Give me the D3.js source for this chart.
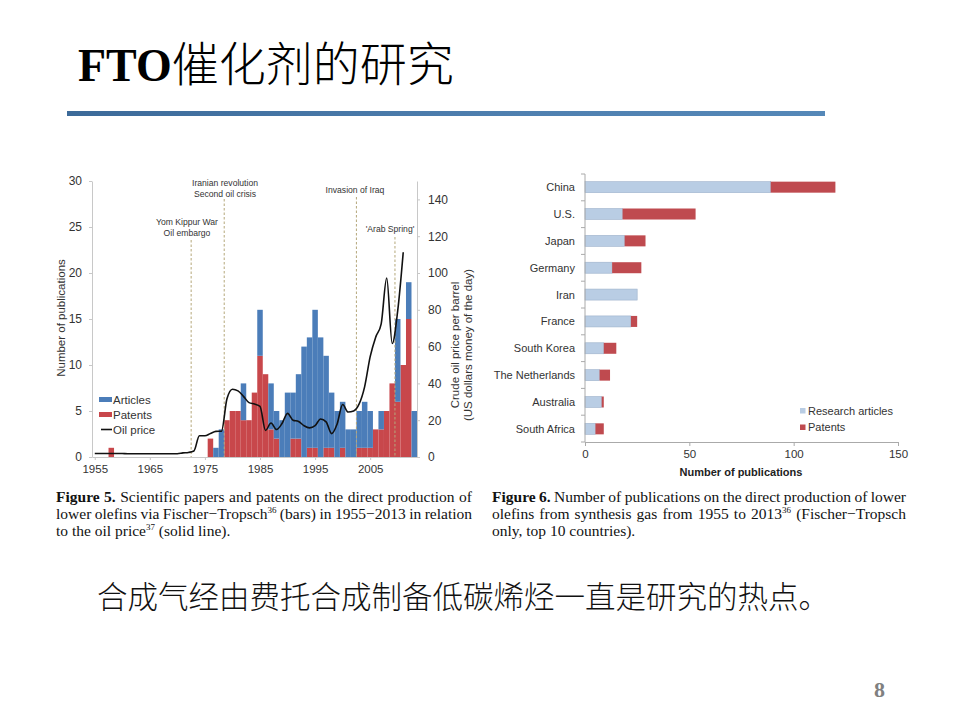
<!DOCTYPE html>
<html><head><meta charset="utf-8">
<script src="https://cdn.jsdelivr.net/npm/d3@7"></script>
<style>body{margin:0;background:#fff;} svg{display:block;}</style>
</head><body>
<svg id="c" width="960" height="720"></svg>
<script>
// ---------- DATA ----------
// Figure 5: publications per year (1955-2013)
const years = d3.range(1955, 2014); // 1955 ... 2013
const articles = [
  0,0,0,0,0, 0,0,0,0,0, 0,0,0,0,0, 0,0,0,0,0,   // 1955-1974
  0,0,1,3,0, 0,0,4,0,0, 5,0,5,3,4, 7,5,7,12,12, // 1975-1994
  15,13,10,6,5, 5,3,3,4,5, 4,0,2,0,0, 9,0,4,5   // 1995-2013
];
const patents = [
  0,0,0,1,0, 0,0,0,0,0, 0,0,0,0,0, 0,0,0,0,0,   // 1955-1974
  0,2,0,0,4, 5,5,4,4,7, 11,9,3,2,0, 0,2,2,0,1,  // 1975-1994
  1,0,1,1,0, 1,0,0,1,1, 1,3,3,5,8, 6,10,15,0    // 1995-2013
];
// Oil price, US$ per barrel (money of the day), 1955-2011
const oilYears = d3.range(1955, 2012);
const oilPrice = [
  1.93,1.93,1.93,1.93,1.93, 1.90,1.80,1.80,1.80,1.80, 1.80,1.80,1.80,1.80,1.80,
  1.80,2.24,2.48,3.29,11.58, 11.53,12.80,13.92,14.02,31.61, 36.83,35.93,32.97,29.55,28.78,
  27.56,14.43,18.44,14.92,18.23, 23.73,20.00,19.32,16.97,15.82, 17.02,20.67,19.09,12.72,17.97,
  28.50,24.44,25.02,28.83,38.27, 54.52,65.14,72.39,97.26,61.67, 79.50,111.26
];
const eventYears = [1973, 1979, 2003, 2010];
const eventLabels = [["Yom Kippur War","Oil embargo"],["Iranian revolution","Second oil crisis"],["Invasion of Iraq"],["'Arab Spring'"]];
const leftTicks = [0,5,10,15,20,25,30];
const rightTicks = [0,20,40,60,80,100,120,140];
const xTickYears = [1955,1965,1975,1985,1995,2005];

// Figure 6: top 10 countries
const countries = ["China","U.S.","Japan","Germany","Iran","France","South Korea","The Netherlands","Australia","South Africa"];
const researchArticles = [89,18,19,13,25,22,9,7,8,5];
const countryPatents   = [31,35,10,14,0,3,6,5,1,4];
const pubTicks = [0,50,100,150];

// ---------- DRAW ----------
const svg = d3.select("#c");
const SANS = "'Liberation Sans', Arial, sans-serif";
const SERIF = "'Liberation Serif', 'Times New Roman', serif";
const CJK = "'Noto Sans CJK SC', sans-serif";
const BLUE = "#4b7db9", RED = "#c8474b", TXT = "#333";

// Title
const t = svg.append("text").attr("x", 78).attr("y", 81).attr("fill", "#000");
t.append("tspan").attr("font-family", SERIF).attr("font-weight", "bold").attr("font-size", 46).text("FTO");
t.append("tspan").attr("font-family", CJK).attr("font-size", 47).attr("font-weight", 300).text("催化剂的研究");

// Rule
const defs = svg.append("defs");
const g = defs.append("linearGradient").attr("id", "rule").attr("x1", "0").attr("x2", "1");
g.append("stop").attr("offset", "0").attr("stop-color", "#3c6a99");
g.append("stop").attr("offset", "0.6").attr("stop-color", "#4f80b0");
g.append("stop").attr("offset", "1").attr("stop-color", "#5588b8");
svg.append("rect").attr("x", 67).attr("y", 111).attr("width", 758).attr("height", 5).attr("fill", "url(#rule)");

// ---- Left chart ----
const L = svg.append("g");
const x = d3.scaleLinear().domain([1955, 2014]).range([92, 417]);
const yL = d3.scaleLinear().domain([0, 30]).range([457, 181]);
const yR = d3.scaleLinear().domain([0, 150]).range([457, 181]);

const barData = years.map((yr, i) => ({yr, a: articles[i], p: patents[i]}));
L.selectAll("rect.pat").data(barData.filter(d => d.p > 0)).join("rect")
  .attr("x", d => x(d.yr)).attr("width", d => x(d.yr + 1) - x(d.yr))
  .attr("y", d => yL(d.p)).attr("height", d => yL(0) - yL(d.p)).attr("fill", RED);
L.selectAll("rect.art").data(barData.filter(d => d.a > 0)).join("rect")
  .attr("x", d => x(d.yr)).attr("width", d => x(d.yr + 1) - x(d.yr))
  .attr("y", d => yL(d.p + d.a)).attr("height", d => yL(d.p) - yL(d.p + d.a)).attr("fill", BLUE);

// event lines
const evTops = [240, 199, 197, 237];
eventYears.forEach((ey, i) => {
  L.append("line").attr("x1", x(ey)).attr("x2", x(ey)).attr("y1", evTops[i]).attr("y2", 457)
    .attr("stroke", "#b5a77a").attr("stroke-width", 1).attr("stroke-dasharray", "2.5,2");
});
const evLabelPos = [[187, 222], [225, 183], [355, 190], [390, 229]];
eventLabels.forEach((lines, i) => {
  lines.forEach((s, j) => {
    L.append("text").attr("x", evLabelPos[i][0]).attr("y", evLabelPos[i][1] + j * 10.5 + 3)
      .attr("text-anchor", "middle").attr("font-family", SANS).attr("font-size", 8.6)
      .attr("fill", TXT).text(s);
  });
});

// oil price line
const line = d3.line().x(d => x(d[0] + 0.5)).y(d => yR(d[1])).curve(d3.curveMonotoneX);
L.append("path").datum(oilYears.map((yy, i) => [yy, oilPrice[i]]))
  .attr("d", line).attr("fill", "none").attr("stroke", "#111").attr("stroke-width", 1.6);

// axes
function styleAxis(sel, fs) {
  sel.selectAll(".domain").attr("stroke", "#c8c8c8");
  sel.selectAll(".tick line").attr("stroke", "#c8c8c8");
  sel.selectAll(".tick text").attr("font-family", SANS).attr("font-size", fs).attr("fill", TXT);
}
const axL = L.append("g").attr("transform", "translate(92,0)")
  .call(d3.axisLeft(yL).tickValues(leftTicks).tickSize(3).tickPadding(7).tickSizeOuter(0));
styleAxis(axL, 12);
const axR = L.append("g").attr("transform", "translate(417,0)")
  .call(d3.axisRight(yR).tickValues(rightTicks).tickSize(3).tickPadding(8).tickSizeOuter(0));
styleAxis(axR, 12);
const axB = L.append("g").attr("transform", "translate(0,457)")
  .call(d3.axisBottom(x).tickValues(xTickYears.map(v => v + 0.5)).tickFormat(v => Math.floor(v)).tickSize(3).tickPadding(5).tickSizeOuter(0));
styleAxis(axB, 11.5);

L.append("text").attr("transform", "translate(65,318) rotate(-90)").attr("text-anchor", "middle")
  .attr("font-family", SANS).attr("font-size", 11.5).attr("fill", TXT).text("Number of publications");
L.append("text").attr("transform", "translate(459,345) rotate(-90)").attr("text-anchor", "middle")
  .attr("font-family", SANS).attr("font-size", 11.5).attr("fill", TXT).text("Crude oil price per barrel");
L.append("text").attr("transform", "translate(472,345) rotate(-90)").attr("text-anchor", "middle")
  .attr("font-family", SANS).attr("font-size", 11.5).attr("fill", TXT).text("(US dollars money of the day)");

// legend
const lg = L.append("g");
lg.append("rect").attr("x", 99).attr("y", 397).attr("width", 13).attr("height", 5).attr("fill", BLUE);
lg.append("rect").attr("x", 99).attr("y", 412).attr("width", 13).attr("height", 5).attr("fill", RED);
lg.append("line").attr("x1", 101).attr("x2", 112).attr("y1", 429.5).attr("y2", 429.5).attr("stroke", "#111").attr("stroke-width", 1.6);
[["Articles", 399.5], ["Patents", 414.5], ["Oil price", 429.5]].forEach(([s, yy]) => {
  lg.append("text").attr("x", 113).attr("y", yy + 4).attr("font-family", SANS).attr("font-size", 11.5).attr("fill", TXT).text(s);
});

// ---- Right chart ----
const R = svg.append("g");
const xP = d3.scaleLinear().domain([0, 150]).range([585, 898]);
const yC = d3.scaleBand().domain(countries).range([174, 442]).paddingInner(0.59).paddingOuter(0.285);
const cData = countries.map((c, i) => ({c, a: researchArticles[i], p: countryPatents[i]}));
R.selectAll("rect.ra").data(cData).join("rect")
  .attr("x", xP(0)).attr("y", d => yC(d.c)).attr("width", d => xP(d.a) - xP(0)).attr("height", yC.bandwidth())
  .attr("fill", "#b9cde4").attr("stroke", "#9db2cb").attr("stroke-width", 0.6);
R.selectAll("rect.rp").data(cData.filter(d => d.p > 0)).join("rect")
  .attr("x", d => xP(d.a)).attr("y", d => yC(d.c)).attr("width", d => xP(d.a + d.p) - xP(d.a)).attr("height", yC.bandwidth())
  .attr("fill", "#bf4a4f");
// vertical axis line with boundary ticks
R.append("line").attr("x1", 585).attr("x2", 585).attr("y1", 174).attr("y2", 442).attr("stroke", "#aaa");
d3.range(countries.length + 1).forEach(k => {
  const yy = 174 + k * (268 / countries.length);
  R.append("line").attr("x1", 581).attr("x2", 585).attr("y1", yy).attr("y2", yy).attr("stroke", "#aaa");
});
R.selectAll("text.cl").data(countries).join("text")
  .attr("x", 575).attr("y", d => yC(d) + yC.bandwidth() / 2 + 4).attr("text-anchor", "end")
  .attr("font-family", SANS).attr("font-size", 11).attr("fill", TXT).text(d => d);
const axP = R.append("g").attr("transform", "translate(0,442)")
  .call(d3.axisBottom(xP).tickValues(pubTicks).tickSize(4).tickPadding(4).tickSizeOuter(0));
axP.selectAll(".domain").attr("stroke", "#aaa");
axP.selectAll(".tick line").attr("stroke", "#aaa");
axP.selectAll(".tick text").attr("font-family", SANS).attr("font-size", 11.5).attr("fill", TXT);
R.append("text").attr("x", 741).attr("y", 475.5).attr("text-anchor", "middle")
  .attr("font-family", SANS).attr("font-weight", "bold").attr("font-size", 11).attr("fill", "#222").text("Number of publications");
// legend
R.append("rect").attr("x", 800).attr("y", 408).attr("width", 5.5).attr("height", 5.5).attr("fill", "#b9cde4");
R.append("rect").attr("x", 800).attr("y", 424.5).attr("width", 5.5).attr("height", 5.5).attr("fill", "#bf4a4f");
R.append("text").attr("x", 808).attr("y", 414.5).attr("font-family", SANS).attr("font-size", 11).attr("fill", TXT).text("Research articles");
R.append("text").attr("x", 808).attr("y", 431).attr("font-family", SANS).attr("font-size", 11).attr("fill", TXT).text("Patents");

// ---- Captions ----
function captionLine(x0, y0, width, parts, justify) {
  const te = svg.append("text").attr("x", x0).attr("y", y0).attr("font-family", SERIF).attr("font-size", 15.5).attr("fill", "#111");
  parts.forEach(p => {
    const ts = te.append("tspan").text(p.t);
    if (p.b) ts.attr("font-weight", "bold");
    if (p.sup) ts.attr("font-size", 9).attr("dy", -6);
    if (p.down) ts.attr("dy", 6);
  });
  if (justify) {
    const w = te.node().getComputedTextLength();
    const nSpaces = parts.map(p => (p.t.match(/ /g) || []).length).reduce((a, b) => a + b, 0);
    if (nSpaces > 0) te.attr("word-spacing", (width - w) / nSpaces);
  }
}
captionLine(56, 502, 416, [{t: "Figure 5.", b: true}, {t: " Scientific papers and patents on the direct production of"}], true);
captionLine(56, 519, 416, [{t: "lower olefins via Fischer\u2212Tropsch"}, {t: "36", sup: true}, {t: " (bars) in 1955\u22122013 in relation", down: true}], true);
captionLine(56, 536, 0, [{t: "to the oil price"}, {t: "37", sup: true}, {t: " (solid line).", down: true}], false);
captionLine(492, 502, 414, [{t: "Figure 6.", b: true}, {t: " Number of publications on the direct production of lower"}], true);
captionLine(492, 519, 414, [{t: "olefins from synthesis gas from 1955 to 2013"}, {t: "36", sup: true}, {t: " (Fischer\u2212Tropsch", down: true}], true);
captionLine(492, 536, 0, [{t: "only, top 10 countries)."}], false);

// Bottom sentence
svg.append("text").attr("x", 97).attr("y", 608).attr("font-family", CJK).attr("font-size", 30.5).attr("font-weight", 300)
  .attr("fill", "#111").text("合成气经由费托合成制备低碳烯烃一直是研究的热点。");

// Page number
svg.append("text").attr("x", 885).attr("y", 697).attr("text-anchor", "end").attr("font-family", SERIF)
  .attr("font-weight", "bold").attr("font-size", 22).attr("fill", "#808080").text("8");
</script>
</body></html>
